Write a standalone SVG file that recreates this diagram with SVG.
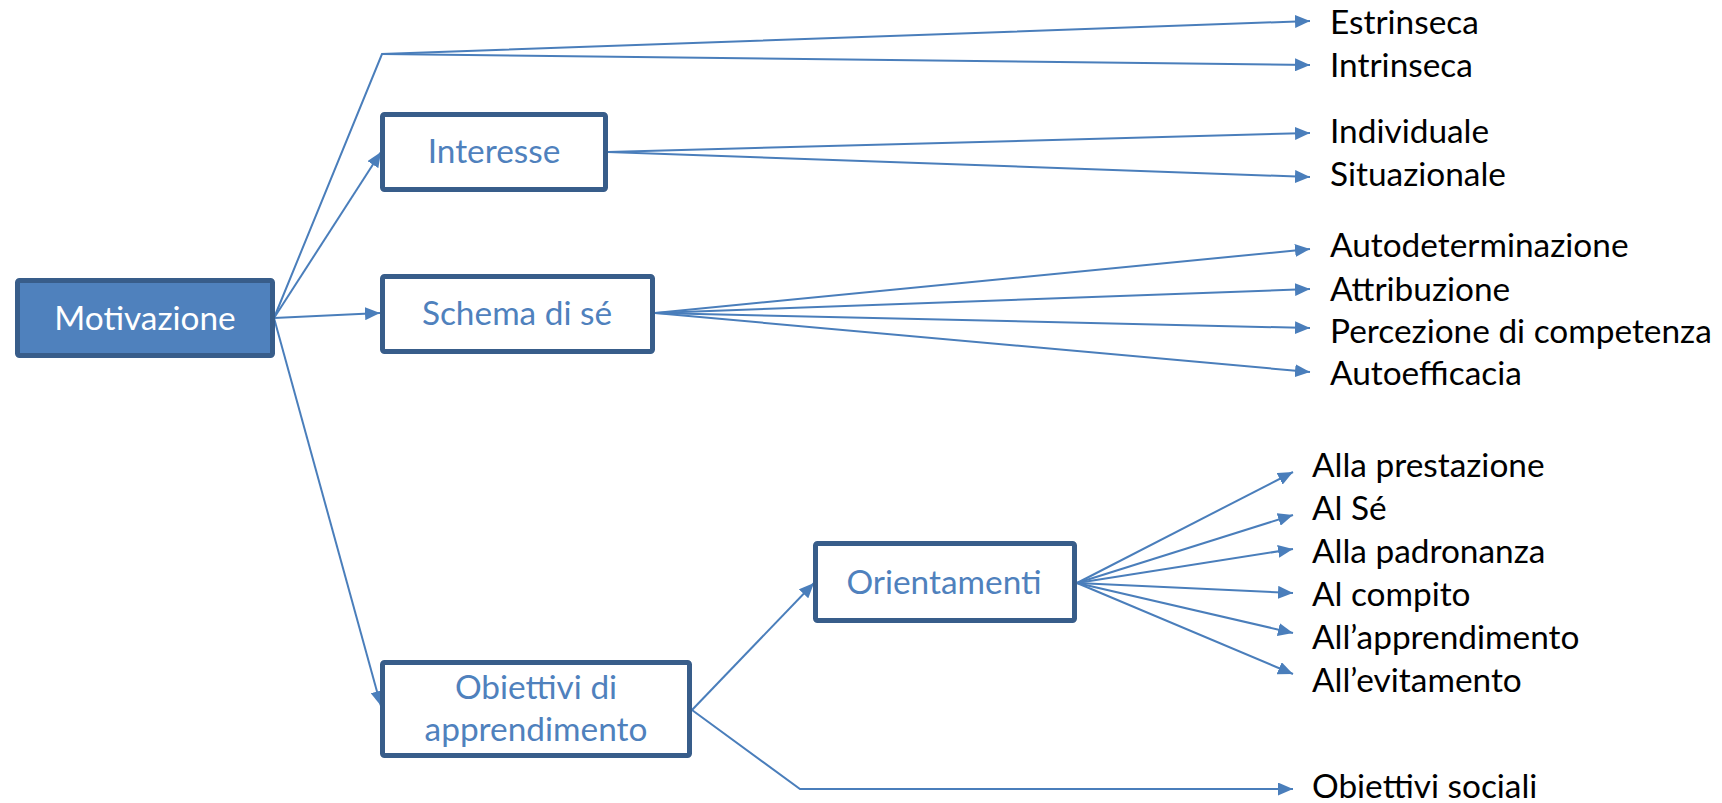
<svg xmlns="http://www.w3.org/2000/svg" width="1722" height="803" viewBox="0 0 1722 803">
  <style>
    .box { fill: #ffffff; stroke: #385d8a; stroke-width: 5; }
    .box.main { fill: #4f81bd; }
    .boxtext { font-family: Lato, "Liberation Sans", sans-serif; font-size: 33.4px; fill: #4f81bd; text-anchor: middle; }
    .boxtext.main { fill: #ffffff; }
    .label { font-family: Lato, "Liberation Sans", sans-serif; font-size: 33.4px; fill: #000000; }
    .conn { fill: none; stroke: #4a7ebb; stroke-width: 2; stroke-linejoin: miter; }
    .arrow { marker-end: url(#head); }
  </style>
  <defs>
    <marker id="head" markerUnits="userSpaceOnUse" markerWidth="16" markerHeight="13" refX="15" refY="6.5" orient="auto">
      <path d="M0,0 L15,6.5 L0,13 z" fill="#4a7ebb"/>
    </marker>
  </defs>
  <rect width="1722" height="803" fill="#ffffff"/>

  <g id="connectors">
    <!-- Motivazione: motivation types -->
    <polyline class="conn arrow" points="274,318 382,54 1310,21"/>
    <polyline class="conn arrow" points="382,54 1310,65"/>
    <!-- Motivazione to second-level nodes -->
    <line class="conn arrow" x1="274" y1="318" x2="381" y2="152"/>
    <line class="conn arrow" x1="274" y1="318" x2="380" y2="313"/>
    <line class="conn arrow" x1="274" y1="318" x2="381" y2="706"/>
    <!-- Interesse -->
    <line class="conn arrow" x1="608" y1="152" x2="1310" y2="133"/>
    <line class="conn arrow" x1="608" y1="152" x2="1310" y2="177"/>
    <!-- Schema di sé -->
    <line class="conn arrow" x1="655" y1="313" x2="1310" y2="249"/>
    <line class="conn arrow" x1="655" y1="313" x2="1310" y2="289"/>
    <line class="conn arrow" x1="655" y1="313" x2="1310" y2="328"/>
    <line class="conn arrow" x1="655" y1="313" x2="1310" y2="372"/>
    <!-- Obiettivi di apprendimento -->
    <line class="conn arrow" x1="692" y1="710" x2="814" y2="583"/>
    <polyline class="conn arrow" points="692,710 800,789 1293,789"/>
    <!-- Orientamenti -->
    <line class="conn arrow" x1="1077" y1="583" x2="1293" y2="472"/>
    <line class="conn arrow" x1="1077" y1="583" x2="1293" y2="515"/>
    <line class="conn arrow" x1="1077" y1="583" x2="1293" y2="549"/>
    <line class="conn arrow" x1="1077" y1="583" x2="1293" y2="593"/>
    <line class="conn arrow" x1="1077" y1="583" x2="1293" y2="633"/>
    <line class="conn arrow" x1="1077" y1="583" x2="1293" y2="674"/>
  </g>

  <g id="motivazione">
    <rect class="box main" x="17.5" y="280.5" width="255" height="75" rx="2"/>
    <text class="boxtext main" x="145" y="330">Motivazione</text>
  </g>
  <g id="interesse">
    <rect class="box" x="382.5" y="114.5" width="223" height="75" rx="2"/>
    <text class="boxtext" x="494" y="163">Interesse</text>
  </g>
  <g id="schema-di-se">
    <rect class="box" x="382.5" y="276.5" width="270" height="75" rx="2"/>
    <text class="boxtext" x="517" y="325">Schema di sé</text>
  </g>
  <g id="obiettivi-di-apprendimento">
    <rect class="box" x="382.5" y="662.5" width="307" height="93" rx="2"/>
    <text class="boxtext" x="536" y="699">Obiettivi di</text>
    <text class="boxtext" x="536" y="741">apprendimento</text>
  </g>
  <g id="orientamenti">
    <rect class="box" x="815.5" y="543.5" width="259" height="77" rx="2"/>
    <text class="boxtext" x="944" y="594">Orientamenti</text>
  </g>

  <g id="estrinseca"><text class="label" x="1330" y="34">Estrinseca</text></g>
  <g id="intrinseca"><text class="label" x="1330" y="77">Intrinseca</text></g>
  <g id="individuale"><text class="label" x="1330" y="143">Individuale</text></g>
  <g id="situazionale"><text class="label" x="1330" y="186">Situazionale</text></g>
  <g id="autodeterminazione"><text class="label" x="1330" y="257">Autodeterminazione</text></g>
  <g id="attribuzione"><text class="label" x="1330" y="301">Attribuzione</text></g>
  <g id="percezione-di-competenza"><text class="label" x="1330" y="343">Percezione di competenza</text></g>
  <g id="autoefficacia"><text class="label" x="1330" y="385">Autoefficacia</text></g>

  <g id="alla-prestazione"><text class="label" x="1312" y="477">Alla prestazione</text></g>
  <g id="al-se"><text class="label" x="1312" y="520">Al Sé</text></g>
  <g id="alla-padronanza"><text class="label" x="1312" y="563">Alla padronanza</text></g>
  <g id="al-compito"><text class="label" x="1312" y="606">Al compito</text></g>
  <g id="all-apprendimento"><text class="label" x="1312" y="649">All’apprendimento</text></g>
  <g id="all-evitamento"><text class="label" x="1312" y="692">All’evitamento</text></g>
  <g id="obiettivi-sociali"><text class="label" x="1312" y="798">Obiettivi sociali</text></g>
</svg>
